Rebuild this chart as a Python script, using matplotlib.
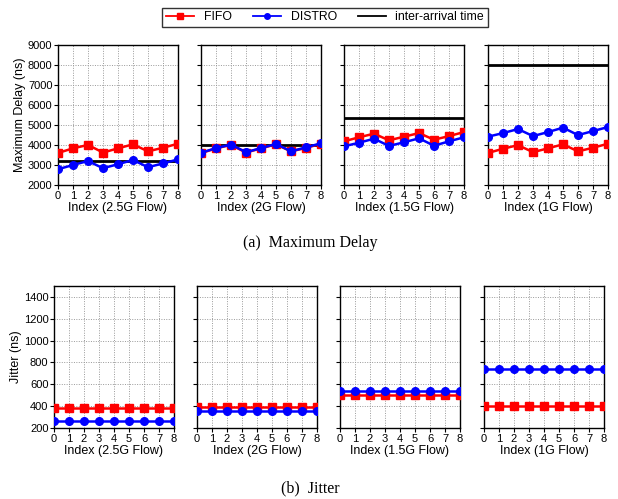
import matplotlib
matplotlib.use("Agg")
import matplotlib.pyplot as plt
from matplotlib.lines import Line2D

plt.rcParams['font.family'] = ['Liberation Sans', 'DejaVu Sans']

idx = [0, 1, 2, 3, 4, 5, 6, 7, 8]
flow_labels = ["Index (2.5G Flow)", "Index (2G Flow)", "Index (1.5G Flow)", "Index (1G Flow)"]

delay_fifo = [
    [3610, 3840, 4010, 3630, 3840, 4040, 3690, 3870, 4070],
    [3600, 3840, 4010, 3630, 3840, 4040, 3690, 3860, 4070],
    [4190, 4390, 4570, 4240, 4420, 4600, 4270, 4450, 4650],
    [3610, 3820, 4000, 3650, 3840, 4040, 3690, 3870, 4070],
]
delay_distro = [
    [2800, 3010, 3210, 2850, 3050, 3260, 2900, 3090, 3290],
    [3620, 3850, 4030, 3650, 3850, 4060, 3690, 3890, 4090],
    [3940, 4120, 4320, 3960, 4140, 4340, 3970, 4190, 4390],
    [4420, 4600, 4800, 4450, 4650, 4870, 4500, 4700, 4900],
]
inter_arrival = [3200, 4000, 5333, 8000]

jitter_fifo = [380, 390, 500, 400]
jitter_distro = [260, 360, 540, 740]

W, H = 618, 499
fig = plt.figure(figsize=(W / 100, H / 100), dpi=100)

top_x = [58, 201, 344, 488]
bot_x = [54, 197, 340, 484]
pw = 120

def px_axes(x0, y0, x1, y1):
    return fig.add_axes([x0 / W, 1 - y1 / H, (x1 - x0) / W, (y1 - y0) / H])

red = '#ff0000'
blue = '#0000ff'

def style(ax, ylim, yticks, show_ylabels, xlabel):
    ax.set_xlim(0, 8)
    ax.set_ylim(*ylim)
    ax.set_xticks(idx)
    ax.set_yticks(yticks)
    if not show_ylabels:
        ax.set_yticklabels([])
    ax.grid(True, linestyle=(0, (1, 1.5)), color='#999999', linewidth=0.7)
    ax.set_axisbelow(True)
    ax.tick_params(axis='both', direction='out', length=3, width=0.8, labelsize=8, pad=1)
    for s in ax.spines.values():
        s.set_linewidth(1.0)
    ax.set_xlabel(xlabel, fontsize=9, labelpad=1)

for i in range(4):
    ax = px_axes(top_x[i], 44.7, top_x[i] + pw, 185.3)
    ax.axhline(inter_arrival[i], color='black', linewidth=2, zorder=3)
    ax.plot(idx, delay_fifo[i], color=red, marker='s', markersize=5.5, linewidth=1.8, zorder=4)
    ax.plot(idx, delay_distro[i], color=blue, marker='o', markersize=5.5, linewidth=1.8, zorder=5)
    style(ax, (2000, 9000), list(range(2000, 9001, 1000)), i == 0, flow_labels[i])
    if i == 0:
        ax.set_ylabel("Maximum Delay (ns)", fontsize=9, labelpad=1)

for i in range(4):
    ax = px_axes(bot_x[i], 286, bot_x[i] + pw, 428)
    ax.plot(idx, [jitter_fifo[i]] * 9, color=red, marker='s', markersize=5.5, linewidth=1.8, zorder=4)
    ax.plot(idx, [jitter_distro[i]] * 9, color=blue, marker='o', markersize=5.5, linewidth=1.8, zorder=5)
    style(ax, (200, 1500), list(range(200, 1401, 200)), i == 0, flow_labels[i])
    if i == 0:
        ax.set_ylabel("Jitter (ns)", fontsize=9, labelpad=1)

fig.text(310 / W, 1 - 243 / H, "(a)  Maximum Delay", ha='center', va='center',
         fontsize=11.5, family=['Liberation Serif', 'DejaVu Serif'])
fig.text(310 / W, 1 - 488 / H, "(b)  Jitter", ha='center', va='center',
         fontsize=11.5, family=['Liberation Serif', 'DejaVu Serif'])

handles = [
    Line2D([], [], color=red, marker='s', markersize=4, linewidth=1.3),
    Line2D([], [], color=blue, marker='o', markersize=4, linewidth=1.3),
    Line2D([], [], color='black', linewidth=1.3),
]
leg = fig.legend(handles, ["FIFO", "DISTRO", "inter-arrival time"], loc='center',
                 bbox_to_anchor=(325 / W, 1 - 17.5 / H), ncol=3, fontsize=8.8,
                 frameon=True, fancybox=False, edgecolor='black', handlelength=2.3,
                 columnspacing=1.7, borderpad=0.3, handletextpad=0.8)
leg.get_frame().set_linewidth(1.0)

fig.savefig("out.png", dpi=100)
